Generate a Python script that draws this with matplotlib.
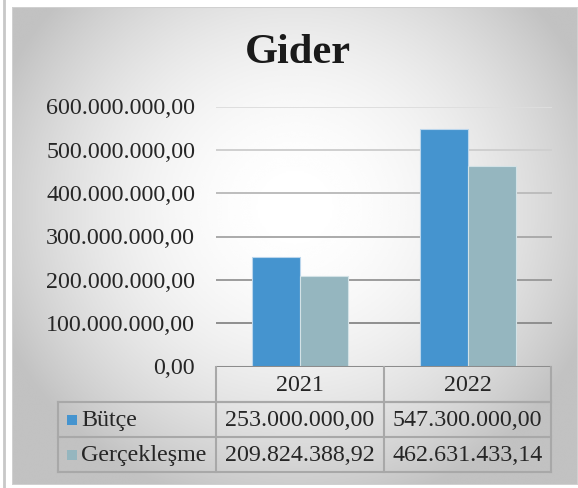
import numpy as np
import matplotlib.pyplot as plt
from matplotlib.transforms import Affine2D
from matplotlib.patches import Rectangle

# Data
title = "Gider"
years = ["2021", "2022"]
series_names = ["Bütçe", "Gerçekleşme"]
butce = [253000000.00, 547300000.00]
gerceklesme = [209824388.92, 462631433.14]
yticks = [0, 100000000, 200000000, 300000000, 400000000, 500000000, 600000000]

colors = ["#4594CF", "#95B6BF"]
grid_colors = ["#8C8C8C", "#8F8F8F", "#9C9C9C", "#AAAAAA", "#BDBDBD", "#CFCFCF", "#DEDEDE"]


def tr_fmt(v):
    # Turkish number style: 1.234.567,89
    s = "{:,.2f}".format(v)
    return s.replace(",", "X").replace(".", ",").replace("X", ".")


plt.rcParams['font.family'] = ['Liberation Serif', 'DejaVu Serif']

W, H = 578, 488
fig = plt.figure(figsize=(W / 100, H / 100), dpi=100)
fig.patch.set_facecolor("white")

# pixel coords (from top-left) -> figure
px = Affine2D().scale(1 / W, -1 / H).translate(0, 1) + fig.transFigure

# panel background with radial gradient
bg = fig.add_axes([12 / W, (H - 485) / H, (W - 12) / W, (485 - 7) / H])
bg.set_axis_off()
yy, xx = np.mgrid[0:1:300j, 0:1:300j]
r2 = ((xx - 0.5) / 0.75) ** 2 + ((yy - 0.42) / 0.85) ** 2
shade = np.clip(1 - 0.42 * r2, 0.76, 1)
bg.imshow(shade, cmap="gray", vmin=0, vmax=1, extent=[0, 1, 0, 1],
          aspect="auto", interpolation="bicubic")
bg.set_xlim(0, 1)
bg.set_ylim(0, 1)
bg.add_patch(Rectangle((0, 0), 1, 1, fill=False, edgecolor="#D0D0D0",
                       linewidth=1.5, transform=bg.transAxes))

# outer left frame line
fig.add_artist(plt.Line2D([3.5, 3.5], [0, H], color="#C8C8C8", linewidth=2, transform=px))

# main axes
x0, x1 = 216, 552
ytop, ybot = 106.5, 366.5
ax = fig.add_axes([x0 / W, (H - ybot) / H, (x1 - x0) / W, (ybot - ytop) / H])
ax.patch.set_alpha(0)

x = np.arange(len(years))
w = 0.286
ax.bar(x - w / 2, butce, w, color=colors[0], edgecolor="#BBD6EC", linewidth=0.8, zorder=3)
ax.bar(x + w / 2, gerceklesme, w, color=colors[1], edgecolor="#D3E2E6", linewidth=0.8, zorder=3)

for t, c in zip(yticks, grid_colors):
    ax.axhline(t, color=c, linewidth=2.2 if t == 0 else 1.4, zorder=1 if t else 4)

fs = 17.3
ax.set_xlim(-0.5, len(years) - 0.5)
ax.set_ylim(0, 600000000)
ax.set_yticks(yticks)
ax.set_yticklabels([tr_fmt(t) for t in yticks], fontsize=fs, color="#262626")
ax.tick_params(axis="y", length=0, pad=15)
ax.set_xticks([])
for s in ax.spines.values():
    s.set_visible(False)

fig.text(298, 53, title, transform=px, ha="center", va="center",
         fontsize=30.5, fontweight="bold", color="#1A1A1A")

# data table under the axes
col_edges = [58, 216, 384, 551]
row_edges = [366.5, 402, 437, 472]
lc = "#A8A8A8"
lw = 1.5
# header row (years)
fig.add_artist(plt.Line2D([col_edges[1], col_edges[3]], [row_edges[1], row_edges[1]],
                          color=lc, linewidth=lw, transform=px))
for xe in col_edges[1:]:
    fig.add_artist(plt.Line2D([xe, xe], [row_edges[0], row_edges[3]], color=lc,
                              linewidth=lw, transform=px))
fig.add_artist(plt.Line2D([col_edges[0], col_edges[0]], [row_edges[1], row_edges[3]],
                          color=lc, linewidth=lw, transform=px))
for ye in row_edges[1:]:
    fig.add_artist(plt.Line2D([col_edges[0], col_edges[3]], [ye, ye], color=lc,
                              linewidth=lw, transform=px))

for j, yr in enumerate(years):
    cx = (col_edges[j + 1] + col_edges[j + 2]) / 2
    fig.text(cx, (row_edges[0] + row_edges[1]) / 2 + 1, yr, transform=px,
             ha="center", va="center", fontsize=fs, color="#262626")

for i, (name, vals) in enumerate(zip(series_names, [butce, gerceklesme])):
    cy = (row_edges[i + 1] + row_edges[i + 2]) / 2
    fig.add_artist(Rectangle((67, cy - 5), 10, 10, facecolor=colors[i],
                             edgecolor="none", transform=px))
    fig.text(81, cy + 1, name, transform=px, ha="left", va="center",
             fontsize=fs, color="#262626")
    for j, v in enumerate(vals):
        cx = (col_edges[j + 1] + col_edges[j + 2]) / 2
        fig.text(cx, cy + 1, tr_fmt(v), transform=px, ha="center", va="center",
                 fontsize=fs, color="#262626")

plt.savefig("out.png", dpi=100)
